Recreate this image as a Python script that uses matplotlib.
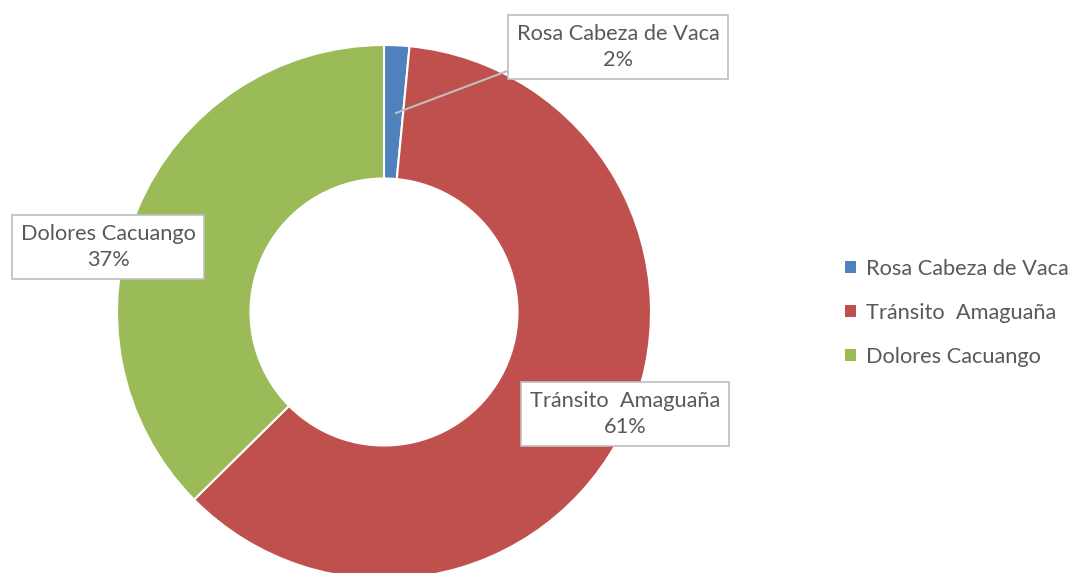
import matplotlib.pyplot as plt
from matplotlib.patches import Patch

plt.rcParams['font.family'] = ['Lato', 'DejaVu Sans']

names = ['Rosa Cabeza de Vaca', 'Tránsito  Amaguaña', 'Dolores Cacuango']
counts = [2, 80, 49]
colors = ['#4F81BD', '#C0504D', '#9BBB59']
text_color = '#595959'

W, H = 1069, 573
cx, cy, R = 384, 312, 267


def to_data(px, py):
    return (px - cx) / R, (cy - py) / R


fig = plt.figure(figsize=(W / 100, H / 100), dpi=100)
ax = fig.add_axes([0, 0, 1, 1])

wedges, _ = ax.pie(counts, colors=colors, startangle=90, counterclock=False,
                   radius=1.0, wedgeprops=dict(width=0.5, edgecolor='white', linewidth=1.5))

ax.set_xlim(-cx / R, (W - cx) / R)
ax.set_ylim(-(H - cy) / R, cy / R)
ax.set_aspect('equal')
ax.axis('off')

total = sum(counts)
pcts = [f'{round(100 * c / total)}%' for c in counts]

box = dict(boxstyle='square,pad=0.4', facecolor='white', edgecolor='#BFBFBF', linewidth=1.2)
label_pos = [(618, 47), (625, 414), (108, 247)]

# leader line for the small slice
x0, y0 = to_data(510, 70)
x1, y1 = to_data(396, 113)
ax.plot([x0, x1], [y0, y1], color='#BFBFBF', linewidth=1.5, zorder=3)

for name, pct, (px, py) in zip(names, pcts, label_pos):
    x, y = to_data(px, py)
    ax.text(x, y, f'{name}\n{pct}', ha='center', va='center', fontsize=15.7,
            color=text_color, linespacing=1.38, bbox=box, zorder=4)

handles = [Patch(facecolor=c, edgecolor='none') for c in colors]
fig.legend(handles, names, loc='center left', bbox_to_anchor=(845 / W, 1 - 313 / H),
           frameon=False, fontsize=15.7, labelcolor=text_color, handlelength=0.5,
           handleheight=0.5, handletextpad=0.45, labelspacing=1.1, borderpad=0,
           borderaxespad=0)

fig.savefig('out.png', dpi=100)
